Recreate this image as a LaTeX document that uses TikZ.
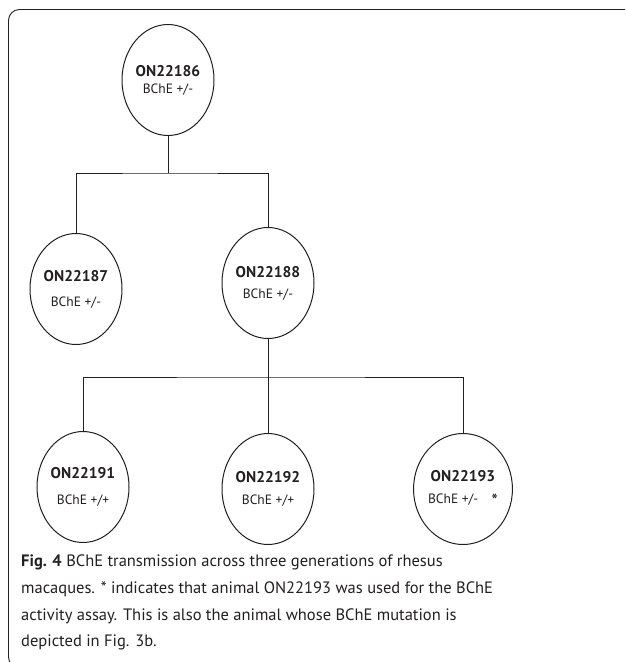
\documentclass[tikz,border=0pt]{standalone}
\usepackage{fontspec}
\setmainfont{PT Sans}
\usepackage{tikz}
\usetikzlibrary{shapes.geometric, positioning}
\definecolor{ink}{HTML}{231F20}

\tikzset{
	animal/.style={draw=ink, line width=1pt, ellipse, minimum width=92pt, minimum height=111pt, inner sep=0pt, align=center, text=ink},
	rama/.style={draw=ink, line width=1pt}
}
\newcommand{\mono}[3][9pt]{{\fontsize{15.5}{17}\selectfont\bfseries #2}\\[#1]{\fontsize{13.5}{15}\selectfont #3}}

\begin{document}
\begin{tikzpicture}[x=1pt, y=-1pt]
			\useasboundingbox (0,0) rectangle (625,662);
			\clip (0,0) rectangle (625,662);
			% marco
			\draw[ink, line width=0.9pt, rounded corners=11pt] (8.5,9.5) rectangle (660,668);

			% animales
			\node [animal] (n86) at (168,80) {\mono[5pt]{ON22186}{BChE +/-}};
			\node [animal] (n87) at (76,289) {\mono[13pt]{ON22187}{BChE +/-}};
			\node [animal] (n88) at (268,283) {\mono[9pt]{ON22188}{BChE +/-}};
			\node [animal] (n91) at (83,487) {\mono[14pt]{ON22191}{BChE +/+}};
			\node [animal] (n92) at (268,489) {\mono[10pt]{ON22192}{BChE +/+}};
			\node [animal] (n93) at (463,489) {\mono[10pt]{ON22193}{BChE +/-\hspace{13pt}\raisebox{-4pt}{\fontsize{19}{19}\selectfont *}}};

			\coordinate (b1) at (168,173);
			\coordinate (b2) at (268,377);

			% ramas
			\path[rama]
			(n86) -- (b1)
			(n87.north) |- (b1) -| (n88.north)
			(n88) -- (n92)
			(n91.north) |- (b2) -| (n93.north)
;

			% pie
			\node [anchor=north west, inner sep=0pt, align=left, text=ink, font=\fontsize{16.5}{26.6}\selectfont] (pie) at (21,555)
			{\textbf{Fig. 4} BChE transmission across three generations of rhesus\\
			macaques. * indicates that animal ON22193 was used for the BChE\\
			activity assay. This is also the animal whose BChE mutation is\\
			depicted in Fig. 3b.};
\end{tikzpicture}
\end{document}
